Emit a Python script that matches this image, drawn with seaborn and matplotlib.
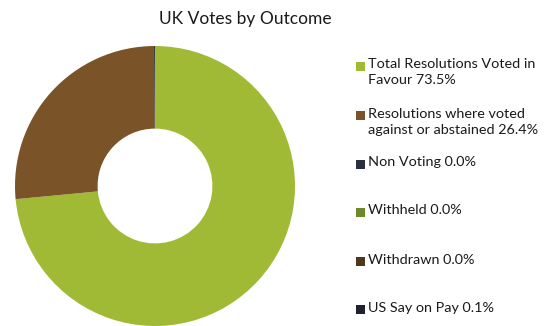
import matplotlib
matplotlib.use("Agg")
import matplotlib.pyplot as plt
import seaborn as sns
from matplotlib.patches import Rectangle

# Vote outcome shares (%)
outcomes = [
    "Total Resolutions Voted in\nFavour",
    "Resolutions where voted\nagainst or abstained",
    "Non Voting",
    "Withheld",
    "Withdrawn",
    "US Say on Pay",
]
shares = [73.5, 26.4, 0.0, 0.0, 0.0, 0.1]
colors = ["#a0ba36", "#7a5428", "#2b3040", "#6d8a2b", "#4d381c", "#1d2130"]

sns.set_theme(style="white")
plt.rcParams["font.family"] = ["Lato", "DejaVu Sans"]

W, H = 555, 326
fig = plt.figure(figsize=(W / 100, H / 100), dpi=100)
fig.patch.set_facecolor("white")

# Donut axes placed in pixel terms: centre (155, 186), radius 140
cx, cy, r = 155, 186, 140
ax = fig.add_axes([(cx - r) / W, 1 - (cy + r) / H, 2 * r / W, 2 * r / H])
ax.pie(shares, colors=colors, startangle=90, counterclock=False,
       wedgeprops=dict(width=0.59, linewidth=0))
ax.set_aspect("equal")
ax.set_xlim(-1, 1)
ax.set_ylim(-1, 1)
ax.axis("off")

fig.text(245 / W, 1 - 19 / H, "UK Votes by Outcome", ha="center", va="center",
         fontsize=12.5, color="#1a1a1a")

# Legend entries: first-line y position for each
legend_y = [66, 115, 164, 212, 261, 309]
for label, val, col, y in zip(outcomes, shares, colors, legend_y):
    fig.patches.append(Rectangle(((356) / W, 1 - (y + 4.5) / H), 9 / W, 9 / H,
                                 transform=fig.transFigure, facecolor=col,
                                 edgecolor="none"))
    fig.text(368 / W, 1 - (y - 7.5) / H, f"{label} {val:.1f}%", ha="left", va="top",
             fontsize=10.4, color="#1a1a1a", linespacing=1.4)

fig.savefig("out.png", dpi=100, facecolor="white")
